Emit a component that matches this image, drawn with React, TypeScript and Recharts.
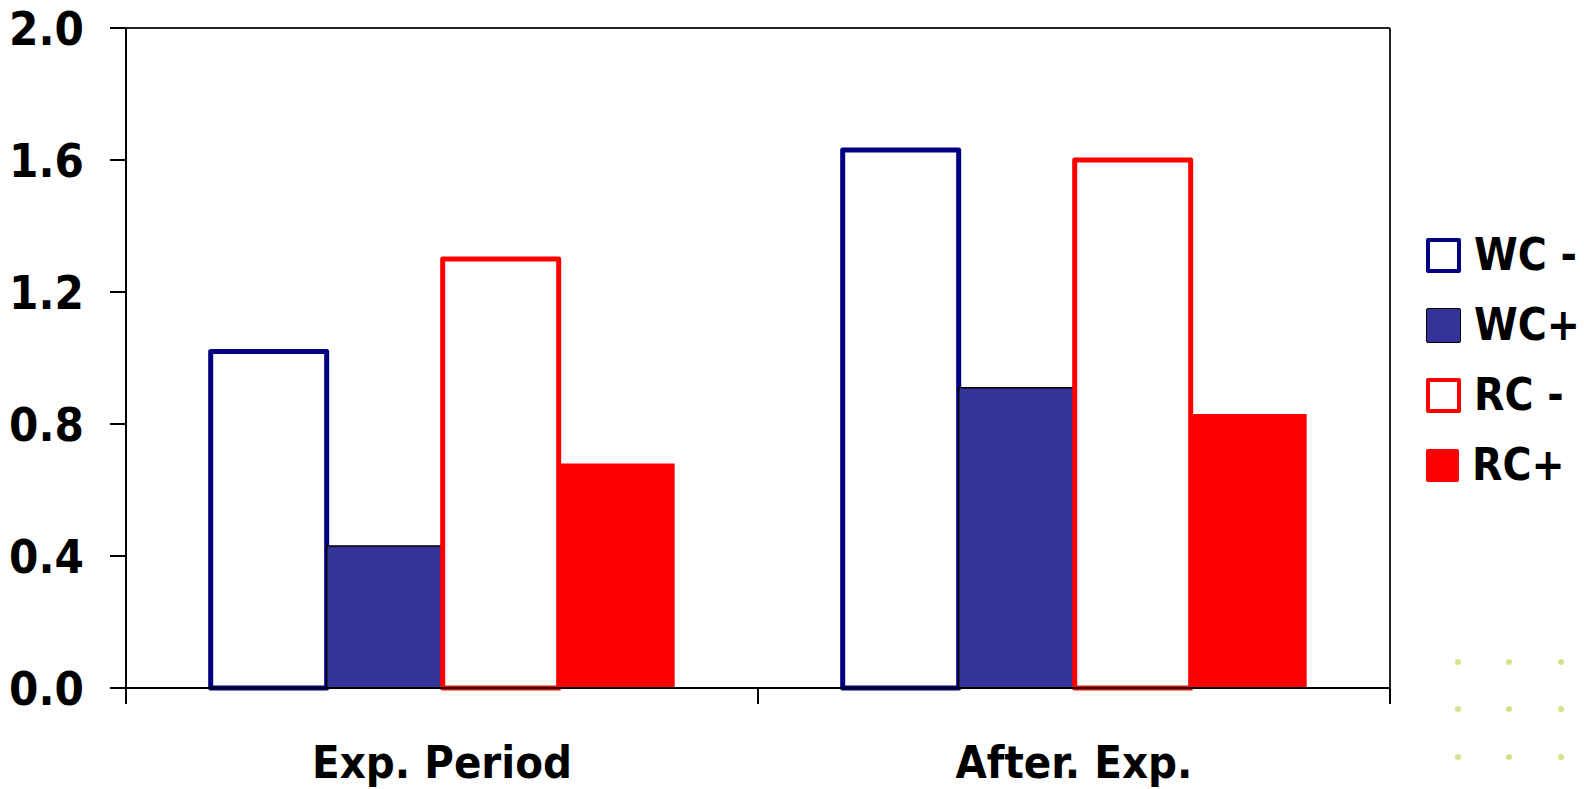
import React from 'react';
import { BarChart, Bar, XAxis, YAxis, Legend, CartesianGrid } from 'recharts';

const categories = ['Exp. Period', 'After. Exp.'];
const wcMinus = [1.02, 1.63];
const wcPlus = [0.43, 0.91];
const rcMinus = [1.3, 1.6];
const rcPlus = [0.68, 0.83];
const yTicks = [0, 0.4, 0.8, 1.2, 1.6, 2.0];

const seriesInfo = [
  { key: 'wcMinus', name: 'WC -', fill: '#FFFFFF', stroke: '#000080', strokeWidth: 5 },
  { key: 'wcPlus', name: 'WC+', fill: '#333399', stroke: '#000000', strokeWidth: 1.5 },
  { key: 'rcMinus', name: 'RC -', fill: '#FFFFFF', stroke: '#FF0000', strokeWidth: 5 },
  { key: 'rcPlus', name: 'RC+', fill: '#FF0000', stroke: 'none', strokeWidth: 0 },
];

const data = categories.map((c, i) => ({
  category: c,
  wcMinus: wcMinus[i],
  wcPlus: wcPlus[i],
  rcMinus: rcMinus[i],
  rcPlus: rcPlus[i],
}));

const FONT = "'DejaVu Sans Condensed', 'DejaVu Sans', Verdana, sans-serif";
const X_TICK_SIZE = 16;
const X_TICK_MARGIN = 42;

const CategoryTick = (props: any) => {
  const { x, y, payload, width, visibleTicksCount, index } = props;
  const band = width / visibleTicksCount;
  const axisY = y - X_TICK_MARGIN - X_TICK_SIZE;
  const left = x - band / 2;
  const right = x + band / 2;
  return (
    <g>
      <line x1={left} x2={left} y1={axisY} y2={axisY + X_TICK_SIZE} stroke="#000" strokeWidth={2} />
      {index === visibleTicksCount - 1 && (
        <line x1={right} x2={right} y1={axisY} y2={axisY + X_TICK_SIZE} stroke="#000" strokeWidth={2} />
      )}
      <text
        x={x}
        y={y}
        dy="0.71em"
        textAnchor="middle"
        fill="#000"
        fontSize={45}
        fontWeight="bold"
        fontFamily={FONT}
      >
        {payload.value}
      </text>
    </g>
  );
};

const LegendContent = () => (
  <div style={{ fontFamily: FONT, fontWeight: 'bold', fontSize: 44, color: '#000' }}>
    {seriesInfo.map((s) => (
      <div key={s.key} style={{ display: 'flex', alignItems: 'center', height: 70 }}>
        <div
          style={{
            width: s.strokeWidth >= 4 ? 27 : 33,
            height: s.strokeWidth >= 4 ? 27 : 33,
            background: s.fill,
            border:
              s.strokeWidth >= 4
                ? `4px solid ${s.stroke}`
                : s.stroke === 'none'
                ? '0px solid transparent'
                : `1.5px solid ${s.stroke}`,
            borderRadius: 2,
            marginRight: 13,
            flex: 'none',
          }}
        />
        <span style={{ lineHeight: 1, whiteSpace: 'pre' }}>{s.name}</span>
      </div>
    ))}
  </div>
);

const dotXs = [1458, 1509, 1561];
const dotYs = [662, 709, 757];

export default function App() {
  return (
    <div
      style={{
        position: 'fixed',
        left: 0,
        top: 0,
        width: 1584,
        height: 789,
        background: '#FFFFFF',
        overflow: 'hidden',
      }}
    >
      <BarChart
        width={1584}
        height={789}
        data={data}
        margin={{ top: 28, right: 194, bottom: 0, left: 0 }}
        barCategoryGap="13.4%"
        barGap={0}
      >
        <CartesianGrid
          stroke="#222"
          strokeWidth={2}
          horizontalCoordinatesGenerator={({ offset }: any) => [offset.top]}
          verticalCoordinatesGenerator={({ offset }: any) => [offset.left + offset.width]}
        />
        <XAxis
          dataKey="category"
          height={101}
          axisLine={{ stroke: '#000', strokeWidth: 2 }}
          tickLine={false}
          tickSize={X_TICK_SIZE}
          tickMargin={X_TICK_MARGIN}
          tick={<CategoryTick />}
          interval={0}
        />
        <YAxis
          domain={[0, 2]}
          ticks={yTicks}
          width={126}
          tickSize={16}
          tickMargin={26}
          tickFormatter={(v: number) => v.toFixed(1)}
          tick={{ fill: '#000', fontSize: 47, fontWeight: 'bold', fontFamily: FONT }}
          tickLine={{ stroke: '#000', strokeWidth: 2 }}
          axisLine={{ stroke: '#000', strokeWidth: 2 }}
          interval={0}
        />
        <Legend
          layout="vertical"
          align="center"
          verticalAlign="middle"
          content={<LegendContent />}
          wrapperStyle={{ position: 'absolute', left: 1426, top: 220, width: 158 }}
        />
        {seriesInfo.map((s) => (
          <Bar
            key={s.key}
            dataKey={s.key}
            name={s.name}
            fill={s.fill}
            stroke={s.stroke}
            strokeWidth={s.strokeWidth}
            strokeLinejoin="round"
            isAnimationActive={false}
          />
        ))}
      </BarChart>
      {dotYs.map((y) =>
        dotXs.map((x) => (
          <div
            key={`${x}-${y}`}
            style={{
              position: 'absolute',
              left: x - 3,
              top: y - 3,
              width: 6,
              height: 6,
              borderRadius: 3,
              background: '#D4E38A',
            }}
          />
        ))
      )}
    </div>
  );
}
